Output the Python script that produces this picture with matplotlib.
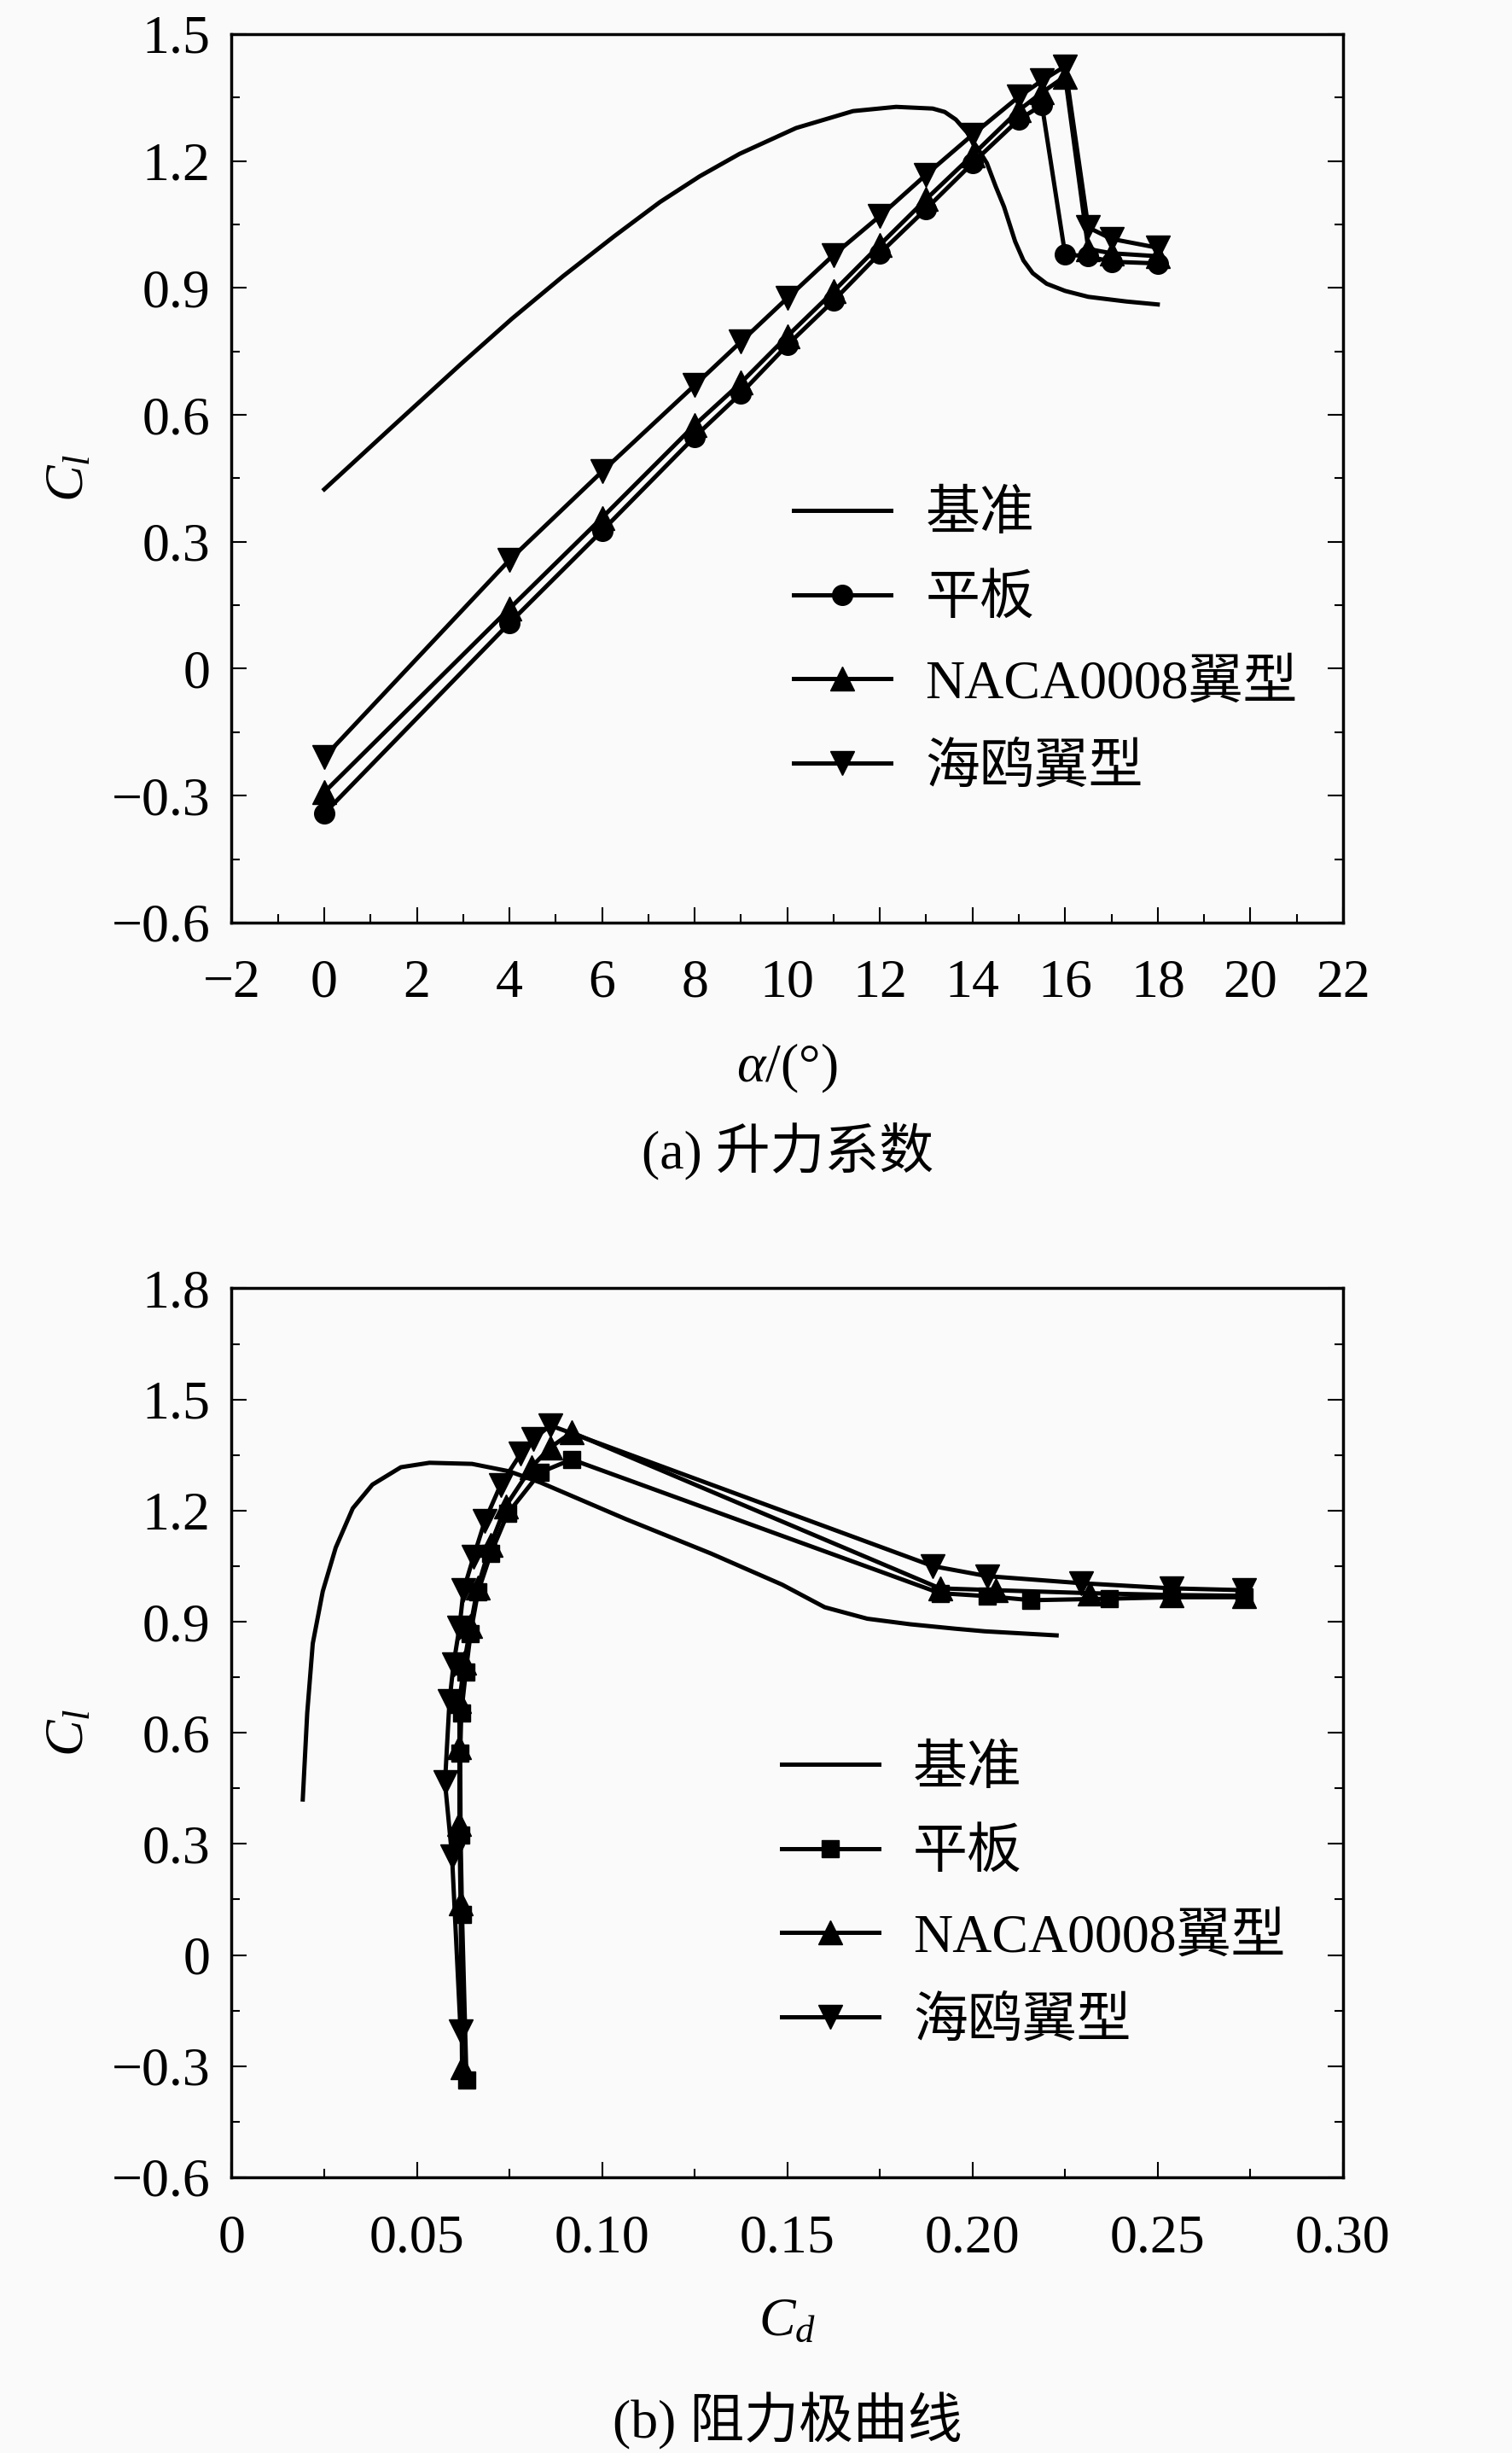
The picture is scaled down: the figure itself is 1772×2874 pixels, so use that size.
import matplotlib
matplotlib.use("Agg")
import matplotlib.pyplot as plt
from matplotlib.ticker import MultipleLocator, FuncFormatter

plt.rcParams['font.family'] = ['Liberation Serif', 'Noto Sans CJK SC']
plt.rcParams['mathtext.fontset'] = 'custom'
plt.rcParams['mathtext.rm'] = 'Liberation Serif'
plt.rcParams['mathtext.it'] = 'Liberation Serif:italic'
plt.rcParams['mathtext.bf'] = 'Liberation Serif:bold'
plt.rcParams['axes.unicode_minus'] = True

# ---------------- (a) lift coefficient ----------------
alpha_base = [0, 1.47, 2.95, 4.05, 5.16, 6.26, 7.25, 8.11, 8.97, 10.19, 11.42,
              12.35, 13.14, 13.40, 13.64, 13.88, 14.10, 14.31, 14.50, 14.68,
              14.92, 15.10, 15.30, 15.60, 16.00, 16.50, 17.32, 18.0]
cl_base = [0.424, 0.572, 0.720, 0.827, 0.928, 1.022, 1.103, 1.164, 1.217, 1.278, 1.318,
           1.328, 1.324, 1.316, 1.298, 1.268, 1.232, 1.195, 1.140, 1.092,
           1.010, 0.965, 0.935, 0.910, 0.893, 0.879, 0.868, 0.861]

alpha_pts = [0, 4, 6, 8, 9, 10, 11, 12, 13, 14, 15, 15.5, 16, 16.5, 17, 18]
cl_plate = [-0.342, 0.108, 0.326, 0.548, 0.651, 0.765, 0.870, 0.982, 1.087, 1.195,
            1.298, 1.332, 0.979, 0.975, 0.962, 0.958]
cl_naca = [-0.292, 0.142, 0.357, 0.576, 0.676, 0.786, 0.892, 1.002, 1.110, 1.214,
           1.320, 1.362, 1.400, 0.992, 0.982, 0.975]
cl_gull = [-0.209, 0.257, 0.466, 0.670, 0.773, 0.876, 0.978, 1.070, 1.168, 1.262,
           1.352, 1.390, 1.424, 1.043, 1.016, 0.995]

# ---------------- (b) drag polar ----------------
cd_base_p = [0.0192, 0.0204, 0.0219, 0.0246, 0.0281, 0.0327, 0.0380, 0.0457, 0.0534,
             0.0649, 0.0749, 0.0833, 0.1064, 0.1294, 0.1486, 0.1601, 0.1716, 0.1832,
             0.1954, 0.2033, 0.2227]
cl_base_p = [0.420, 0.653, 0.841, 0.982, 1.100, 1.206, 1.270, 1.317, 1.329,
             1.326, 1.306, 1.276, 1.177, 1.084, 1.000, 0.939, 0.908, 0.893,
             0.881, 0.874, 0.863]

cd_plate_p = [0.0634, 0.0622, 0.0618, 0.0617, 0.0620, 0.0632, 0.0645, 0.0665, 0.0700,
              0.0745, 0.0833, 0.0918, 0.1912, 0.2039, 0.2158, 0.2369, 0.2538, 0.2734]
cl_plate_p = [-0.337, 0.109, 0.324, 0.545, 0.654, 0.763, 0.868, 0.980, 1.085,
              1.192, 1.303, 1.338, 0.977, 0.969, 0.958, 0.962, 0.966, 0.966]

cd_naca_p = [0.0622, 0.0618, 0.0615, 0.0615, 0.0615, 0.0628, 0.0645, 0.0664, 0.0699,
             0.0740, 0.0810, 0.0860, 0.0918, 0.1912, 0.2062, 0.2315, 0.2538, 0.2734]
cl_naca_p = [-0.302, 0.140, 0.355, 0.562, 0.685, 0.789, 0.889, 0.992, 1.108,
             1.212, 1.318, 1.370, 1.411, 0.990, 0.985, 0.977, 0.972, 0.970]

cd_gull_p = [0.0618, 0.0595, 0.0576, 0.0588, 0.0599, 0.0615, 0.0626, 0.0653, 0.0684,
             0.0726, 0.0780, 0.0814, 0.0860, 0.1893, 0.2039, 0.2292, 0.2538, 0.2734]
cl_gull_p = [-0.206, 0.266, 0.466, 0.685, 0.785, 0.885, 0.985, 1.075, 1.173,
             1.269, 1.353, 1.392, 1.430, 1.050, 1.023, 1.004, 0.990, 0.985]

labels = ['基准', '平板', 'NACA0008翼型', '海鸥翼型']

FS = 46
LW = 3.6
BG = '#fafafa'

fig = plt.figure(figsize=(17.72, 28.74), dpi=100, facecolor=BG)
ax1 = fig.add_axes([0.1532, 0.6239, 0.7350, 0.3622], facecolor=BG)
ax2 = fig.add_axes([0.1532, 0.1124, 0.7350, 0.3624], facecolor=BG)


def fmt_num(v, p):
    if abs(v) < 1e-9:
        return '0'
    s = p % abs(v)
    return ('\u2212' + s) if v < 0 else s


def style(ax):
    for sp in ax.spines.values():
        sp.set_linewidth(2.5)
    ax.tick_params(which='both', direction='in', left=True, right=True,
                   top=False, bottom=True, width=1.5, labelsize=FS)
    ax.tick_params(which='major', length=13)
    ax.tick_params(which='minor', length=7)
    ax.tick_params(axis='y', pad=18)
    ax.tick_params(axis='x', pad=31)


# (a)
ax1.plot(alpha_base, cl_base, '-', color='black', lw=LW, label=labels[0])
ax1.plot(alpha_pts, cl_plate, '-o', color='black', lw=LW, ms=17, label=labels[1])
ax1.plot(alpha_pts, cl_naca, '-^', color='black', lw=LW, ms=20, label=labels[2])
ax1.plot(alpha_pts, cl_gull, '-v', color='black', lw=LW, ms=20, label=labels[3])
ax1.set_xlim(-2, 22)
ax1.set_ylim(-0.6, 1.5)
ax1.xaxis.set_major_locator(MultipleLocator(2))
ax1.xaxis.set_minor_locator(MultipleLocator(1))
ax1.yaxis.set_major_locator(MultipleLocator(0.3))
ax1.yaxis.set_minor_locator(MultipleLocator(0.15))
ax1.xaxis.set_major_formatter(FuncFormatter(lambda v, p: fmt_num(v, '%d')))
ax1.yaxis.set_major_formatter(FuncFormatter(lambda v, p: fmt_num(v, '%.1f')))
style(ax1)
ax1.set_xlabel(r'$\alpha$/(°)', fontsize=FS)
ax1.set_ylabel(r'$C_l$', fontsize=FS)
ax1.xaxis.set_label_coords(0.5, -0.164)
ax1.xaxis.label.set_va('center')
ax1.yaxis.set_label_coords(-0.1455, 0.5)
ax1.yaxis.label.set_va('center')
ax1.legend(loc='center left', bbox_to_anchor=(0.506, 0.315), frameon=False,
           fontsize=FS, borderpad=0, borderaxespad=0, handlelength=1.78,
           handletextpad=0.63, labelspacing=0.62)

# (b)
ax2.plot(cd_base_p, cl_base_p, '-', color='black', lw=LW, label=labels[0])
ax2.plot(cd_plate_p, cl_plate_p, '-s', color='black', lw=LW, ms=14, label=labels[1])
ax2.plot(cd_naca_p, cl_naca_p, '-^', color='black', lw=LW, ms=20, label=labels[2])
ax2.plot(cd_gull_p, cl_gull_p, '-v', color='black', lw=LW, ms=20, label=labels[3])
ax2.set_xlim(0, 0.30)
ax2.set_ylim(-0.6, 1.8)
ax2.xaxis.set_major_locator(MultipleLocator(0.05))
ax2.xaxis.set_minor_locator(MultipleLocator(0.025))
ax2.yaxis.set_major_locator(MultipleLocator(0.3))
ax2.yaxis.set_minor_locator(MultipleLocator(0.15))
ax2.xaxis.set_major_formatter(FuncFormatter(lambda v, p: fmt_num(v, '%.2f')))
ax2.yaxis.set_major_formatter(FuncFormatter(lambda v, p: fmt_num(v, '%.1f')))
style(ax2)
ax2.set_xlabel(r'$C_d$', fontsize=FS)
ax2.set_ylabel(r'$C_l$', fontsize=FS)
ax2.xaxis.set_label_coords(0.5, -0.164)
ax2.xaxis.label.set_va('center')
ax2.yaxis.set_label_coords(-0.1455, 0.5)
ax2.yaxis.label.set_va('center')
ax2.legend(loc='center left', bbox_to_anchor=(0.495, 0.3157), frameon=False,
           fontsize=FS, borderpad=0, borderaxespad=0, handlelength=1.78,
           handletextpad=0.63, labelspacing=0.62)

fig.text(0.5207, 0.5303, '(a) 升力系数', fontsize=FS, ha='center', va='center')
fig.text(0.5207, 0.0129, '(b) 阻力极曲线', fontsize=FS, ha='center', va='center')

fig.savefig('out.png', dpi=100, facecolor=BG)
